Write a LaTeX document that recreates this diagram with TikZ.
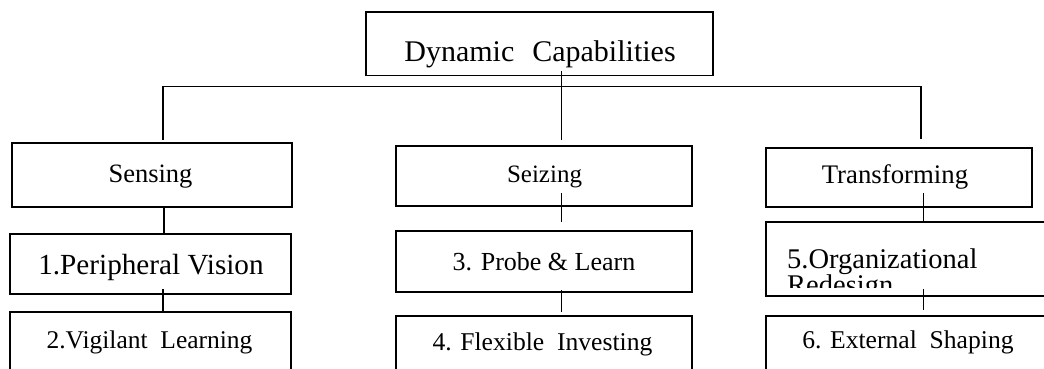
\documentclass[tikz,border=0pt]{standalone}
\usepackage{fontspec}
\setmainfont{Liberation Serif}
\newfontfamily\labelfont{Liberation Serif}
\usetikzlibrary{calc}

% font sizes given in pt, one pt per pixel of the picture
\newcommand{\fs}[1]{\labelfont\fontsize{#1}{#1}\selectfont}

\tikzset{
  box/.style={draw=black, line width=1.8pt, rectangle, inner sep=0pt},
  txt/.style={anchor=base, inner sep=0pt, font=\labelfont},
  link/.style={draw=black, line width=1.3pt},
}

\begin{document}
\begin{tikzpicture}[x=1pt, y=-1pt]
  % page frame and white background
  \useasboundingbox (0,0) rectangle (1044,369);
  \fill[white] (0,0) rectangle (1044,369);
  \clip (0,0) rectangle (1044,369);

  % ---- boxes ----
  \node[box, minimum width=347pt, minimum height=63.5pt] (dc)  at (539.5,43.75) {};

  \node[box, minimum width=280pt, minimum height=64pt] (sens) at (152,175)   {};
  \node[box, minimum width=296pt, minimum height=60pt] (sei)  at (544,176)   {};
  \node[box, minimum width=266pt, minimum height=59pt] (tra)  at (899,177.5) {};

  \node[box, minimum width=281pt, minimum height=60pt] (per)  at (150.5,264)   {};
  \node[box, minimum width=296pt, minimum height=61pt] (pro)  at (544,261.5)   {};
  \node[box, minimum width=284pt, minimum height=74pt] (org)  at (908,259)     {};

  \node[box, minimum width=281pt, minimum height=64pt] (vig)  at (150.5,344) {};
  \node[box, minimum width=296pt, minimum height=64pt] (flx)  at (544,348)   {};
  \node[box, minimum width=284pt, minimum height=64pt] (ext)  at (908,348)   {};

  % ---- labels ----
  \node[txt] (tdc)  at (540,62)    {\fs{30}Dynamic\hspace{0.6em}Capabilities};
  \node[txt] (tsen) at (150.5,182) {\fs{26.5}Sensing};
  \node[txt] (tsei) at (544.5,182) {\fs{25}Seizing};
  \node[txt] (ttra) at (895,183)   {\fs{26.8}Transforming};
  \node[txt] (tper) at (151,274)   {\fs{29.2}1.Peripheral Vision};
  \node[txt] (tpro) at (544,270)   {\fs{26}3. Probe \& Learn};
  \node[txt] (tvig) at (149.5,348) {\fs{25.5}2.Vigilant\ \ Learning};
  \node[txt] (tflx) at (542.5,350) {\fs{25.6}4. Flexible\ \ Investing};
  \node[txt] (text) at (908,348)   {\fs{25.6}6. External\ \ Shaping};

  % two-line label, cut off inside its box
  \begin{scope}
    \clip (org.north west) rectangle ($(org.south east)+(0,-9)$);
    \node[txt, anchor=base west] (torg1) at (787,268) {\fs{28.5}5.Organizational};
    \node[txt, anchor=base west] (torg2) at (787,294.5) {\fs{28.5}Redesign};
  \end{scope}

  % ---- connectors ----
  \coordinate (busL) at (163,86.5);
  \coordinate (busR) at (921,86.5);
  \draw[link] ([shift={(11,-2)}]sens.north) -- (busL) -- (busR)
              -- ([shift={(22,-8)}]tra.north);
  \draw[link] ([shift={(22,-5.5)}]dc.south) -- ([shift={(17.5,-5)}]sei.north);

  \draw[link] ([shift={(12,0)}]sens.south)    -- ([shift={(13.5,1)}]per.north);
  \draw[link] ([shift={(12.5,-6)}]per.south)  -- ([shift={(12.5,0)}]vig.north);

  \draw[link] ([shift={(17.5,-14)}]sei.south) -- ([shift={(17.5,-8)}]pro.north);
  \draw[link] ([shift={(17.5,-3)}]pro.south)  -- ([shift={(17.5,-3)}]flx.north);

  \draw[link] ([shift={(24.5,-15)}]tra.south) -- ([shift={(15.5,0)}]org.north);
  \draw[link] ([shift={(15.5,-8)}]org.south)  -- ([shift={(15.5,-5)}]ext.north);
\end{tikzpicture}
\end{document}
